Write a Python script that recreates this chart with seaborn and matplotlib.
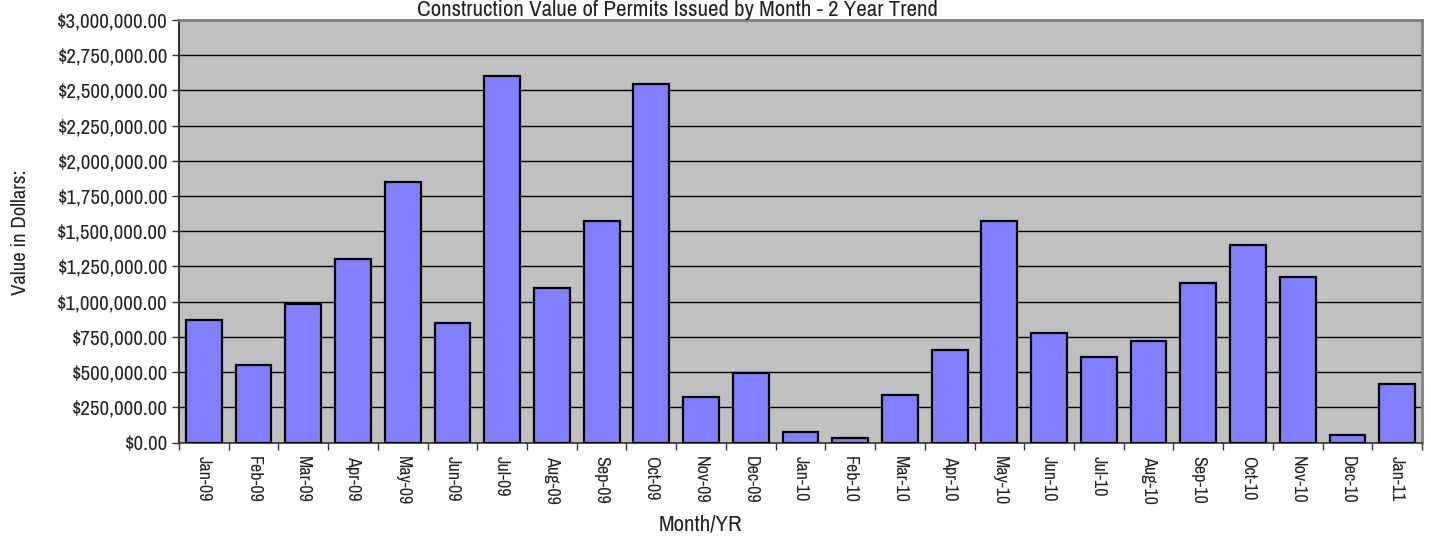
import matplotlib
matplotlib.use("Agg")
import matplotlib.pyplot as plt
import seaborn as sns
import pandas as pd
import numpy as np
from matplotlib.ticker import FuncFormatter, FixedLocator

months = ["Jan-09", "Feb-09", "Mar-09", "Apr-09", "May-09", "Jun-09", "Jul-09", "Aug-09",
          "Sep-09", "Oct-09", "Nov-09", "Dec-09", "Jan-10", "Feb-10", "Mar-10", "Apr-10",
          "May-10", "Jun-10", "Jul-10", "Aug-10", "Sep-10", "Oct-10", "Nov-10", "Dec-10", "Jan-11"]
values = [870000, 550000, 985000, 1305000, 1850000, 850000, 2605000, 1095000,
          1570000, 2546000, 321000, 490000, 72000, 32000, 337000, 660000,
          1570000, 775000, 610000, 720000, 1135000, 1400000, 1175000, 53000, 413000]

title = "Construction Value of Permits Issued by Month - 2 Year Trend"
ylabel = "Value in Dollars:"
xlabel = "Month/YR"

sns.set_theme(style="white")
plt.rcParams['font.family'] = ["Archivo Narrow", "DejaVu Sans"]

df = pd.DataFrame({"Month": months, "Value": values})

fig = plt.figure(figsize=(14.31, 5.36), dpi=100)
ax = fig.add_axes([179/1431, (536-442.5)/536, (1422-179)/1431, (442.5-20)/536])
ax.set_facecolor("#C0C0C0")

sns.barplot(data=df, x="Month", y="Value", color="#8080FF", saturation=1,
            edgecolor="black", linewidth=1.6, width=0.72, ax=ax, zorder=3)

ax.set_ylim(0, 3000000)
ax.set_xlim(-0.5, len(months) - 0.5)
ax.yaxis.set_major_locator(FixedLocator(np.arange(0, 3000001, 250000)))
ax.yaxis.set_major_formatter(FuncFormatter(lambda v, p: "${:,.2f}".format(v)))
ax.grid(axis="y", color="black", linewidth=1.0, zorder=1)
ax.set_axisbelow(True)

ax.set_xticks(np.arange(len(months)))
ax.set_xticklabels(months, rotation=270, fontsize=13, color="#222222")
ax.tick_params(axis="x", which="major", length=0, pad=10)
ax.set_xticks(np.arange(-0.5, len(months)), minor=True)
ax.tick_params(axis="x", which="minor", length=5, width=1, color="#333333", direction="out", bottom=True)
ax.tick_params(axis="y", length=5, width=1, color="#333333", direction="out", left=True,
               labelsize=15, labelcolor="#222222", pad=3)

for s in ["top", "right"]:
    ax.spines[s].set_color("#808080")
    ax.spines[s].set_linewidth(2)
ax.spines["left"].set_color("#333333")
ax.spines["left"].set_linewidth(1.5)
ax.spines["bottom"].set_color("#333333")
ax.spines["bottom"].set_linewidth(1.2)

ax.set_xlabel("")
ax.set_ylabel("")
fig.text(21/1431, 1 - 232/536, ylabel, rotation=90, ha="center", va="center", fontsize=15, color="#222222")
fig.text(700/1431, 1 - 525/536, xlabel, ha="center", va="center", fontsize=16.5, color="#222222")
fig.text(677/1431, 1 - 15.5/536, title, ha="center", va="baseline", fontsize=16.5, color="#222222")

fig.savefig("out.png", dpi=100, facecolor="white")
